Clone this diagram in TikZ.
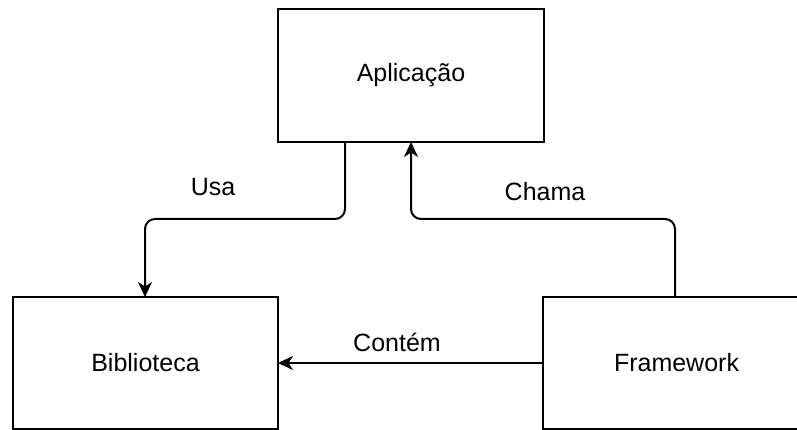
\documentclass[tikz,border=0pt]{standalone}
\usepackage{fontspec}
\setmainfont{Liberation Sans}
\usetikzlibrary{arrows.meta}
\begin{document}
\begin{tikzpicture}[x=1pt,y=-1pt,
  box/.style={draw, line width=2pt, fill=white, inner sep=0pt, outer sep=0pt,
    anchor=north west, font=\fontsize{25}{30}\selectfont},
  conn/.style={draw, line width=2pt, rounded corners=10pt,
    -{Stealth[length=15pt, width=14pt, inset=4.5pt]}},
  lbl/.style={font=\fontsize{25}{30}\selectfont, inner sep=0pt}]
  \useasboundingbox (0,0) rectangle (797,430);
  \clip (0,0) rectangle (797,430);

  % the three blocks
  \node[box, minimum width=266pt, minimum height=133pt] (apl) at (278,9) {Aplicação};
  \node[box, minimum width=265pt, minimum height=132pt] (bib) at (13,297) {Biblioteca};
  \node[box, minimum width=267pt, minimum height=132pt] (fw) at (543,297) {Framework};

  % level of the horizontal runs
  \coordinate (turn) at (0,219);

  % Aplicação uses Biblioteca
  \draw[conn] ([xshift=67pt]apl.south west)
    -- ([xshift=67pt]apl.south west |- turn)
    -- ([xshift=132pt]bib.north west |- turn)
    -- ([xshift=132pt]bib.north west);

  % Framework calls Aplicação
  \draw[conn] ([xshift=132pt]fw.north west)
    -- ([xshift=132pt]fw.north west |- turn)
    -- (apl.south |- turn)
    -- (apl.south);

  % Framework contains Biblioteca
  \draw[conn] (fw.west) -- (bib.east);

  \node[lbl] (usa) at (213,187) {Usa};
  \node[lbl] (chama) at (545,192) {Chama};
  \node[lbl] (contem) at (397,342) {Contém};
\end{tikzpicture}
\end{document}
